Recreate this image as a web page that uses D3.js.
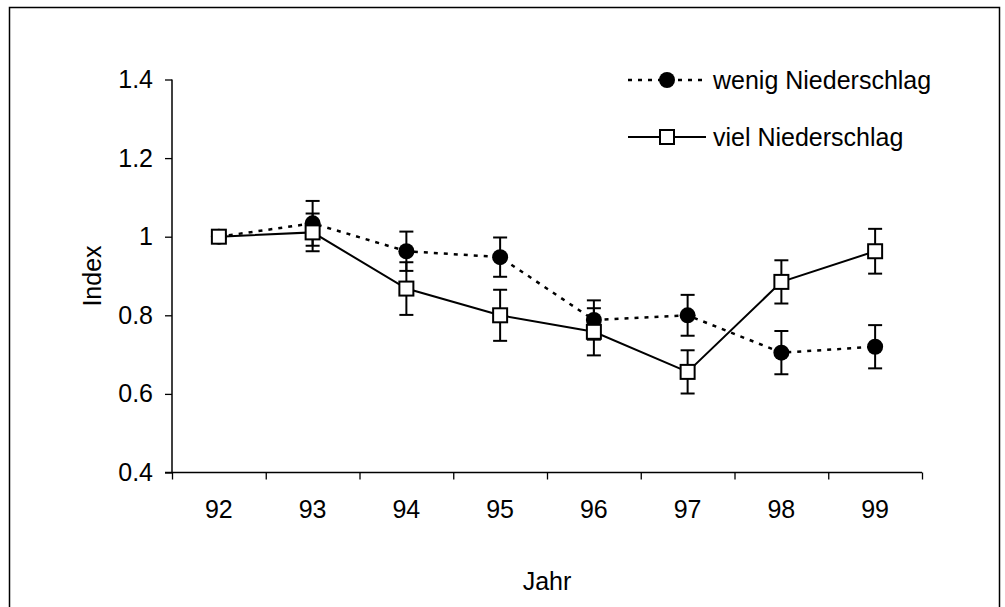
<!DOCTYPE html>
<html>
<head>
<meta charset="utf-8">
<script src="https://cdn.jsdelivr.net/npm/d3@7"></script>
<style>
  html, body { margin: 0; padding: 0; background: #fff; }
  svg { display: block; font-family: "Liberation Sans", Arial, sans-serif; }
</style>
</head>
<body>
<svg id="chart" width="1005" height="607"></svg>
<script>
// Jahre (Kategorien)
const years = ["92", "93", "94", "95", "96", "97", "98", "99"];

// Index-Werte und Fehlerbalken
const wenigValues = [1.0, 1.034, 0.963, 0.948, 0.788, 0.800, 0.705, 0.720];
const wenigErrors = [0, 0.057, 0.050, 0.050, 0.050, 0.052, 0.055, 0.055];
const vielValues  = [1.0, 1.011, 0.868, 0.800, 0.758, 0.656, 0.885, 0.963];
const vielErrors  = [0, 0.048, 0.067, 0.065, 0.060, 0.055, 0.055, 0.057];

// Achsenbeschriftungen
const yTicks = [0.4, 0.6, 0.8, 1.0, 1.2, 1.4];
const yTickLabels = ["0.4", "0.6", "0.8", "1", "1.2", "1.4"];
const seriesNames = ["wenig Niederschlag", "viel Niederschlag"];

const svg = d3.select("#chart");

// outer frame
svg.append("rect")
  .attr("x", 9.5).attr("y", 7.5)
  .attr("width", 990).attr("height", 610)
  .attr("fill", "#fff").attr("stroke", "#000").attr("stroke-width", 1.5);

const plot = { left: 172, right: 922, top: 79.5, bottom: 472.5 };

const x = d3.scaleBand().domain(years).range([plot.left, plot.right]);
const xEdges = d3.scaleLinear().domain([0, years.length]).range([plot.left, plot.right]);
const y = d3.scaleLinear().domain([0.4, 1.4]).range([plot.bottom, plot.top]);
const cx = d => x(d) + x.bandwidth() / 2;

const fontSize = 25;

// y axis
const yAxis = svg.append("g")
  .attr("transform", `translate(${plot.left},0)`)
  .call(d3.axisLeft(y)
    .tickValues(yTicks)
    .tickFormat((d, i) => yTickLabels[i])
    .tickSize(7).tickPadding(12));
yAxis.select(".domain").attr("stroke", "#000").attr("stroke-width", 1.5)
  .attr("d", `M0,${plot.top}V${plot.bottom}`);
yAxis.selectAll(".tick line").attr("stroke", "#000").attr("stroke-width", 1.3);
yAxis.selectAll(".tick text")
  .attr("font-size", fontSize).attr("fill", "#000")
  .attr("font-family", "Liberation Sans, Arial, sans-serif");

// x axis: tick marks at category boundaries
const xAxisTicks = svg.append("g")
  .attr("transform", `translate(0,${plot.bottom})`)
  .call(d3.axisBottom(xEdges)
    .tickValues(d3.range(years.length + 1))
    .tickFormat("")
    .tickSize(7).tickSizeOuter(0));
xAxisTicks.select(".domain").attr("stroke", "#000").attr("stroke-width", 1.5)
  .attr("d", `M${plot.left - 7},0H${plot.right}`);
xAxisTicks.selectAll(".tick line").attr("stroke", "#000").attr("stroke-width", 1.3);

// x axis: category labels
const xAxisLabels = svg.append("g")
  .attr("transform", `translate(0,${plot.bottom})`)
  .call(d3.axisBottom(x).tickSize(0).tickPadding(28));
xAxisLabels.select(".domain").remove();
xAxisLabels.selectAll(".tick text")
  .attr("font-size", fontSize).attr("fill", "#000")
  .attr("font-family", "Liberation Sans, Arial, sans-serif");

// axis titles
svg.append("text")
  .attr("x", (plot.left + plot.right) / 2).attr("y", 590)
  .attr("text-anchor", "middle").attr("font-size", fontSize)
  .text("Jahr");
svg.append("text")
  .attr("transform", `translate(101,${(plot.top + plot.bottom) / 2}) rotate(-90)`)
  .attr("text-anchor", "middle").attr("font-size", fontSize)
  .text("Index");

function errorBars(values, errors) {
  const g = svg.append("g").attr("stroke", "#000").attr("stroke-width", 2);
  const data = years.map((yr, i) => ({ yr, v: values[i], e: errors[i] })).filter(d => d.e > 0);
  g.selectAll("line.stem").data(data).join("line")
    .attr("x1", d => cx(d.yr)).attr("x2", d => cx(d.yr))
    .attr("y1", d => y(d.v + d.e)).attr("y2", d => y(d.v - d.e));
  g.selectAll("line.top").data(data).join("line")
    .attr("x1", d => cx(d.yr) - 7).attr("x2", d => cx(d.yr) + 7)
    .attr("y1", d => y(d.v + d.e)).attr("y2", d => y(d.v + d.e));
  g.selectAll("line.bot").data(data).join("line")
    .attr("x1", d => cx(d.yr) - 7).attr("x2", d => cx(d.yr) + 7)
    .attr("y1", d => y(d.v - d.e)).attr("y2", d => y(d.v - d.e));
}

const line = d3.line().x((d, i) => cx(years[i])).y(d => y(d));

// series 1: wenig Niederschlag (dotted line, filled circles)
errorBars(wenigValues, wenigErrors);
svg.append("path").datum(wenigValues)
  .attr("d", line).attr("fill", "none")
  .attr("stroke", "#000").attr("stroke-width", 2.5).attr("stroke-dasharray", "4,6");
svg.append("g").selectAll("circle").data(wenigValues).join("circle")
  .attr("cx", (d, i) => cx(years[i])).attr("cy", d => y(d))
  .attr("r", 8).attr("fill", "#000");

// series 2: viel Niederschlag (solid line, open squares)
errorBars(vielValues, vielErrors);
svg.append("path").datum(vielValues)
  .attr("d", line).attr("fill", "none")
  .attr("stroke", "#000").attr("stroke-width", 2);
svg.append("g").selectAll("rect").data(vielValues).join("rect")
  .attr("x", (d, i) => cx(years[i]) - 7).attr("y", d => y(d) - 7)
  .attr("width", 14).attr("height", 14)
  .attr("fill", "#fff").attr("stroke", "#000").attr("stroke-width", 2);

// legend
const legend = svg.append("g");
const legendRows = [80, 137];
// row 1
legend.append("line")
  .attr("x1", 628).attr("x2", 706).attr("y1", legendRows[0]).attr("y2", legendRows[0])
  .attr("stroke", "#000").attr("stroke-width", 2.5).attr("stroke-dasharray", "4,6");
legend.append("circle").attr("cx", 667).attr("cy", legendRows[0]).attr("r", 8).attr("fill", "#000");
// row 2
legend.append("line")
  .attr("x1", 628).attr("x2", 706).attr("y1", legendRows[1]).attr("y2", legendRows[1])
  .attr("stroke", "#000").attr("stroke-width", 2);
legend.append("rect").attr("x", 660).attr("y", legendRows[1] - 7)
  .attr("width", 14).attr("height", 14)
  .attr("fill", "#fff").attr("stroke", "#000").attr("stroke-width", 2);
legend.selectAll("text").data(seriesNames).join("text")
  .attr("x", 713).attr("y", (d, i) => legendRows[i])
  .attr("dy", "0.35em").attr("font-size", fontSize)
  .text(d => d);
</script>
</body>
</html>
